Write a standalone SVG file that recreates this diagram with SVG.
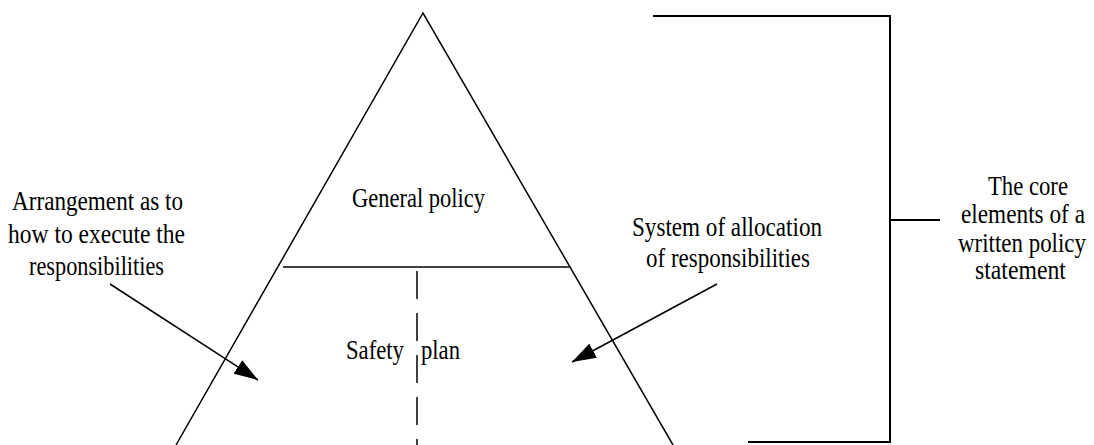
<svg xmlns="http://www.w3.org/2000/svg" width="1094" height="445" viewBox="0 0 1094 445">
<style>
.ln{stroke:#000;stroke-width:1.5;fill:none}
.br{stroke:#000;stroke-width:2;fill:none}
text{font-family:'Liberation Serif','DejaVu Serif',serif;font-size:27px;fill:#000}
</style>
<defs>
<marker id="ah" markerWidth="26" markerHeight="16" refX="24" refY="8" orient="auto" markerUnits="userSpaceOnUse">
<path d="M0,0 L24,8 L0,16 Z" fill="#000"/>
</marker>
</defs>
<rect width="1094" height="445" fill="#fff"/>
<g id="pyramid">
<path class="ln" d="M176,445 L423,13 L673,445"/>
<line class="ln" x1="283" y1="267" x2="571" y2="267"/>
<line class="ln" x1="417" y1="267" x2="417" y2="445" stroke-dasharray="28 14" stroke-dashoffset="-4"/>
</g>
<g id="general-policy"><text transform="translate(352,207) scale(0.84,1)" textLength="158.3" lengthAdjust="spacingAndGlyphs">General policy</text></g>
<g id="safety-plan"><text transform="translate(346,359) scale(0.84,1)" textLength="69" lengthAdjust="spacingAndGlyphs">Safety</text><text transform="translate(421,359) scale(0.84,1)" textLength="46.4" lengthAdjust="spacingAndGlyphs">plan</text></g>
<g id="arrangement">
<text transform="translate(12,210) scale(0.84,1)" textLength="203.6" lengthAdjust="spacingAndGlyphs">Arrangement as to</text>
<text transform="translate(8,243) scale(0.84,1)" textLength="210.7" lengthAdjust="spacingAndGlyphs">how to execute the</text>
<text transform="translate(29,275) scale(0.84,1)" textLength="160.7" lengthAdjust="spacingAndGlyphs">responsibilities</text>
</g>
<g id="allocation">
<text transform="translate(632,236) scale(0.84,1)" textLength="226.2" lengthAdjust="spacingAndGlyphs">System of allocation</text>
<text transform="translate(646,267) scale(0.84,1)" textLength="195.2" lengthAdjust="spacingAndGlyphs">of responsibilities</text>
</g>
<g id="core-elements">
<text transform="translate(988,195) scale(0.84,1)" textLength="95.2" lengthAdjust="spacingAndGlyphs">The core</text>
<text transform="translate(961,223) scale(0.84,1)" textLength="147.6" lengthAdjust="spacingAndGlyphs">elements of a</text>
<text transform="translate(958,252) scale(0.84,1)" textLength="152.4" lengthAdjust="spacingAndGlyphs">written policy</text>
<text transform="translate(975,279) scale(0.84,1)" textLength="108.3" lengthAdjust="spacingAndGlyphs">statement</text>
</g>
<g id="connectors">
<line class="ln" x1="110" y1="284" x2="258" y2="380" marker-end="url(#ah)"/>
<line class="ln" x1="717" y1="284" x2="572" y2="362" marker-end="url(#ah)"/>
<path class="br" d="M653,16 L890,16 L890,442 L748,442"/>
<line class="br" x1="890" y1="220" x2="940" y2="220"/>
</g>
</svg>
